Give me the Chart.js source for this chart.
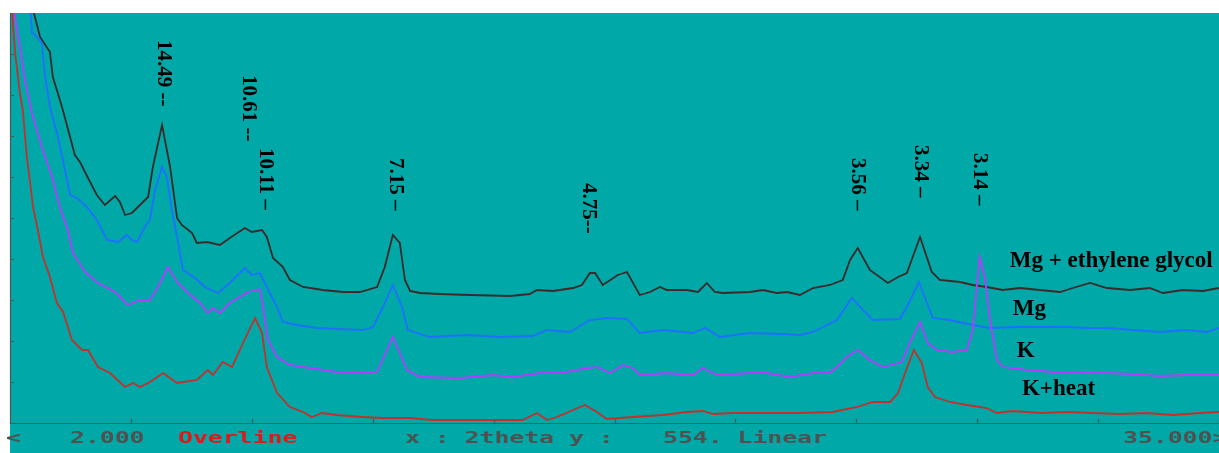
<!DOCTYPE html>
<html>
<head>
<meta charset="utf-8">
<script src="https://cdn.jsdelivr.net/npm/chart.js@4.4.0/dist/chart.umd.min.js"></script>
<style>
    html, body { margin: 0; padding: 0; background: #fff; }
    #wrap { width: 1219px; height: 453px; position: relative; }
</style>
</head>
<body>
<div id="wrap"><canvas id="xrd"></canvas></div>
<script>
// traces: [2theta (deg), intensity (a.u., 0..410)]
var mgGlycol = [
    [2.00, 500], [2.68, 406], [2.82, 386], [3.09, 371], [3.17, 346], [3.42, 316], [3.64, 286],
    [3.77, 268], [3.91, 261], [4.13, 245], [4.37, 228], [4.59, 218], [4.87, 227], [5.00, 221],
    [5.14, 208], [5.33, 210], [5.49, 216], [5.77, 226], [5.90, 256], [6.15, 298], [6.37, 256],
    [6.56, 205], [6.69, 198], [6.97, 190], [7.10, 180], [7.38, 181], [7.73, 178], [8.00, 185],
    [8.41, 195], [8.60, 191], [8.88, 193], [9.01, 186], [9.18, 165], [9.45, 156], [9.64, 143],
    [10.00, 136], [10.54, 133], [11.09, 131], [11.55, 131], [12.02, 136], [12.23, 156], [12.45, 188],
    [12.64, 180], [12.78, 143], [12.92, 132], [13.19, 130], [13.74, 129], [14.55, 128], [15.65, 127],
    [16.19, 129], [16.38, 133], [16.82, 132], [17.37, 135], [17.61, 138], [17.83, 150], [17.97, 150],
    [18.18, 138], [18.59, 148], [18.84, 151], [19.19, 128], [19.47, 131], [19.74, 136], [19.93, 133],
    [20.48, 133], [20.78, 131], [21.02, 140], [21.24, 131], [21.46, 130], [22.20, 131], [22.55, 133],
    [22.93, 130], [23.21, 131], [23.56, 128], [23.92, 135], [24.38, 138], [24.73, 143], [24.93, 163],
    [25.14, 175], [25.47, 153], [25.96, 140], [26.24, 146], [26.48, 150], [26.64, 166], [26.84, 186],
    [27.16, 151], [27.38, 143], [27.93, 141], [28.28, 138], [28.66, 136], [29.10, 133], [29.57, 135],
    [30.11, 133], [30.66, 131], [31.01, 135], [31.48, 140], [31.94, 135], [32.57, 133], [33.11, 135],
    [33.47, 130], [34.01, 133], [34.56, 132], [35.00, 135]
];
var mg = [
    [2.45, 480], [2.60, 390], [2.68, 388], [2.87, 380], [2.96, 346], [3.09, 316], [3.31, 286],
    [3.50, 253], [3.64, 228], [3.83, 225], [4.10, 216], [4.37, 203], [4.65, 183], [4.95, 181],
    [5.19, 188], [5.33, 183], [5.47, 181], [5.68, 196], [5.82, 203], [5.96, 233], [6.15, 256],
    [6.28, 246], [6.42, 213], [6.59, 180], [6.72, 153], [7.05, 145], [7.32, 136], [7.68, 130],
    [8.00, 140], [8.41, 155], [8.60, 148], [8.82, 150], [9.01, 136], [9.29, 116], [9.45, 101],
    [9.83, 98], [10.38, 95], [10.92, 94], [11.63, 93], [11.91, 96], [12.18, 116], [12.45, 138],
    [12.70, 116], [12.86, 93], [13.46, 86], [14.47, 88], [15.37, 86], [16.27, 87], [16.66, 93],
    [17.28, 91], [17.83, 103], [18.29, 105], [18.84, 104], [19.19, 90], [19.82, 93], [20.64, 90],
    [20.97, 95], [21.38, 86], [22.20, 90], [23.10, 89], [23.56, 88], [23.92, 91], [24.57, 103],
    [24.98, 125], [25.28, 113], [25.55, 103], [26.29, 104], [26.51, 118], [26.81, 141], [27.03, 120],
    [27.19, 105], [27.65, 103], [28.28, 98], [28.75, 95], [29.48, 96], [30.11, 96], [30.85, 96],
    [31.39, 95], [31.94, 95], [32.65, 93], [33.39, 91], [34.12, 93], [34.67, 91], [35.00, 95]
];
var k = [
    [2.00, 440], [2.14, 406], [2.27, 376], [2.41, 343], [2.60, 310], [2.87, 276], [3.15, 246],
    [3.36, 216], [3.58, 193], [3.72, 170], [4.05, 151], [4.40, 140], [4.67, 135], [4.87, 131],
    [5.22, 118], [5.55, 123], [5.82, 123], [6.04, 136], [6.31, 156], [6.56, 141], [6.86, 130],
    [7.19, 120], [7.40, 110], [7.54, 115], [7.73, 110], [8.00, 120], [8.36, 128], [8.50, 131],
    [8.82, 134], [8.91, 116], [9.04, 83], [9.29, 66], [9.64, 58], [10.19, 55], [10.92, 51],
    [11.47, 50], [12.02, 51], [12.29, 73], [12.45, 86], [12.64, 70], [12.84, 53], [13.19, 46],
    [14.28, 45], [15.18, 48], [15.73, 46], [16.47, 50], [17.20, 51], [17.75, 55], [18.02, 56],
    [18.38, 50], [18.73, 58], [19.00, 55], [19.19, 48], [19.93, 50], [20.64, 48], [20.91, 55],
    [21.30, 48], [22.20, 50], [22.66, 50], [23.29, 46], [23.92, 50], [24.38, 50], [24.57, 56],
    [24.84, 66], [25.14, 73], [25.47, 63], [25.83, 56], [26.34, 61], [26.56, 80], [26.84, 101],
    [27.05, 80], [27.30, 73], [27.74, 71], [28.12, 73], [28.28, 93], [28.39, 136], [28.47, 166],
    [28.61, 146], [28.75, 103], [28.94, 63], [29.10, 56], [29.76, 53], [30.47, 51], [31.20, 51],
    [31.94, 50], [32.65, 49], [33.39, 47], [34.12, 48], [35.00, 48]
];
var kHeat = [
    [2.00, 450], [2.08, 400], [2.14, 370], [2.27, 330], [2.35, 313], [2.46, 266], [2.55, 240],
    [2.63, 216], [2.76, 193], [2.90, 166], [3.09, 146], [3.28, 120], [3.45, 111], [3.69, 83],
    [3.97, 73], [4.13, 73], [4.40, 56], [4.73, 50], [5.14, 36], [5.36, 40], [5.55, 36],
    [5.82, 41], [6.18, 50], [6.56, 40], [7.10, 43], [7.40, 53], [7.54, 48], [7.81, 61],
    [8.06, 56], [8.36, 80], [8.69, 105], [8.88, 90], [9.01, 56], [9.29, 30], [9.64, 16],
    [10.00, 11], [10.24, 6], [10.52, 10], [10.92, 8], [11.63, 6], [12.18, 5], [12.92, 5],
    [13.54, 3], [14.47, 3], [15.29, 3], [16.00, 3], [16.38, 10], [16.66, 3], [16.93, 6],
    [17.69, 18], [18.02, 11], [18.29, 4], [19.00, 6], [19.82, 8], [20.48, 11], [20.91, 12],
    [21.19, 9], [21.73, 10], [22.66, 10], [23.56, 10], [24.46, 11], [25.12, 16], [25.55, 21],
    [26.02, 21], [26.24, 30], [26.43, 50], [26.67, 73], [26.89, 60], [27.05, 36], [27.25, 26],
    [27.65, 21], [28.12, 18], [28.66, 15], [28.94, 10], [29.37, 12], [30.11, 10], [30.85, 11],
    [31.56, 10], [32.30, 9], [33.03, 10], [33.74, 8], [34.48, 10], [35.00, 11]
];

var seriesNames = ['K+heat', 'K', 'Mg', 'Mg + ethylene glycol'];
var seriesColors = ['#c4302c', '#b43cff', '#1f70ff', '#3a2a2a'];

// d-spacing labels (Angstrom) and where they sit (2theta, intensity of top end)
var peakText = ['14.49 --', '10.61 --', '10.11 \u2013', '7.15 \u2013', '4.75--', '3.56 \u2013', '3.34 \u2013', '3.14 \u2013'];
var peakAt = [6.18, 8.50, 8.96, 12.51, 17.78, 25.14, 26.84, 28.47];
var peakTop = [383, 348, 275, 265, 240, 265, 278, 270];

// series names written at the right end (2theta start, baseline intensity)
var nameAt = [29.62, 29.48, 29.37, 29.29];
var nameBase = [28, 66, 108, 156];

var xTicks = [2, 5.3, 8.6, 11.9, 15.2, 18.5, 21.8, 25.1, 28.4, 31.7, 35];
var yTicks = [41, 82, 123, 164, 205, 246, 287, 328, 369];

var statusLine = [
    [6, '<', '#505050'], [70, '2.000', '#505050'], [178, 'Overline', '#e01818'],
    [405, 'x : 2theta y :', '#505050'], [663, '554. Linear', '#505050'], [1123, '35.000>', '#505050']
];

var xrdDecor = {
    id: 'xrdDecor',
    beforeDraw: function (c) {
        var ctx = c.ctx, a = c.chartArea;
        ctx.save();
        ctx.fillStyle = '#fff';
        ctx.fillRect(0, 0, c.width, c.height);
        ctx.fillStyle = '#00a8a8';
        ctx.fillRect(a.left, a.top, c.width - a.left, c.height - a.top);
        ctx.restore();
    },
    afterDraw: function (c) {
        var ctx = c.ctx, a = c.chartArea, xs = c.scales.x, ys = c.scales.y;
        ctx.save();

        // axes with inward ticks
        ctx.strokeStyle = '#4a5858';
        ctx.lineWidth = 1.2;
        ctx.beginPath();
        ctx.moveTo(a.left + 0.5, a.top);
        ctx.lineTo(a.left + 0.5, a.bottom + 0.5);
        ctx.lineTo(a.right, a.bottom + 0.5);
        xTicks.forEach(function (v) {
            var px = Math.round(xs.getPixelForValue(v)) + 0.5;
            ctx.moveTo(px, a.bottom);
            ctx.lineTo(px, a.bottom - 4);
        });
        yTicks.forEach(function (v) {
            var py = Math.round(ys.getPixelForValue(v)) + 0.5;
            ctx.moveTo(a.left, py);
            ctx.lineTo(a.left + 4, py);
        });
        ctx.stroke();

        // rotated d-spacing labels
        ctx.fillStyle = '#000';
        ctx.font = 'bold 21px "Liberation Serif"';
        ctx.textAlign = 'left';
        ctx.textBaseline = 'middle';
        peakText.forEach(function (t, i) {
            ctx.save();
            ctx.translate(xs.getPixelForValue(peakAt[i]), ys.getPixelForValue(peakTop[i]));
            ctx.rotate(Math.PI / 2);
            ctx.fillText(t, 0, 0);
            ctx.restore();
        });

        // series names
        ctx.font = 'bold 23px "Liberation Serif"';
        ctx.textBaseline = 'alphabetic';
        seriesNames.forEach(function (n, i) {
            ctx.fillText(n, xs.getPixelForValue(nameAt[i]), ys.getPixelForValue(nameBase[i]));
        });

        // status bar
        ctx.font = 'bold 15px "DejaVu Sans Mono"';
        statusLine.forEach(function (s) {
            ctx.save();
            ctx.translate(s[0], 443);
            ctx.scale(1.65, 1);
            ctx.fillStyle = s[2];
            ctx.fillText(s[1], 0, 0);
            ctx.restore();
        });
        ctx.restore();
    }
};

function toPoints(arr) {
    return arr.map(function (p) { return { x: p[0], y: p[1] }; });
}

var traces = [kHeat, k, mg, mgGlycol];

new Chart(document.getElementById('xrd'), {
    type: 'line',
    data: {
        datasets: traces.map(function (t, i) {
            return {
                label: seriesNames[i],
                data: toPoints(t),
                borderColor: seriesColors[i],
                borderWidth: 1.8,
                pointRadius: 0,
                fill: false,
                tension: 0
            };
        })
    },
    options: {
        responsive: true,
        maintainAspectRatio: false,
        animation: false,
        layout: { padding: { left: 10, top: 13, right: 0, bottom: 30 } },
        plugins: { legend: { display: false }, tooltip: { enabled: false } },
        scales: {
            x: { type: 'linear', min: 2, max: 35, display: false },
            y: { min: 0, max: 410, display: false }
        }
    },
    plugins: [xrdDecor]
});
</script>
</body>
</html>
